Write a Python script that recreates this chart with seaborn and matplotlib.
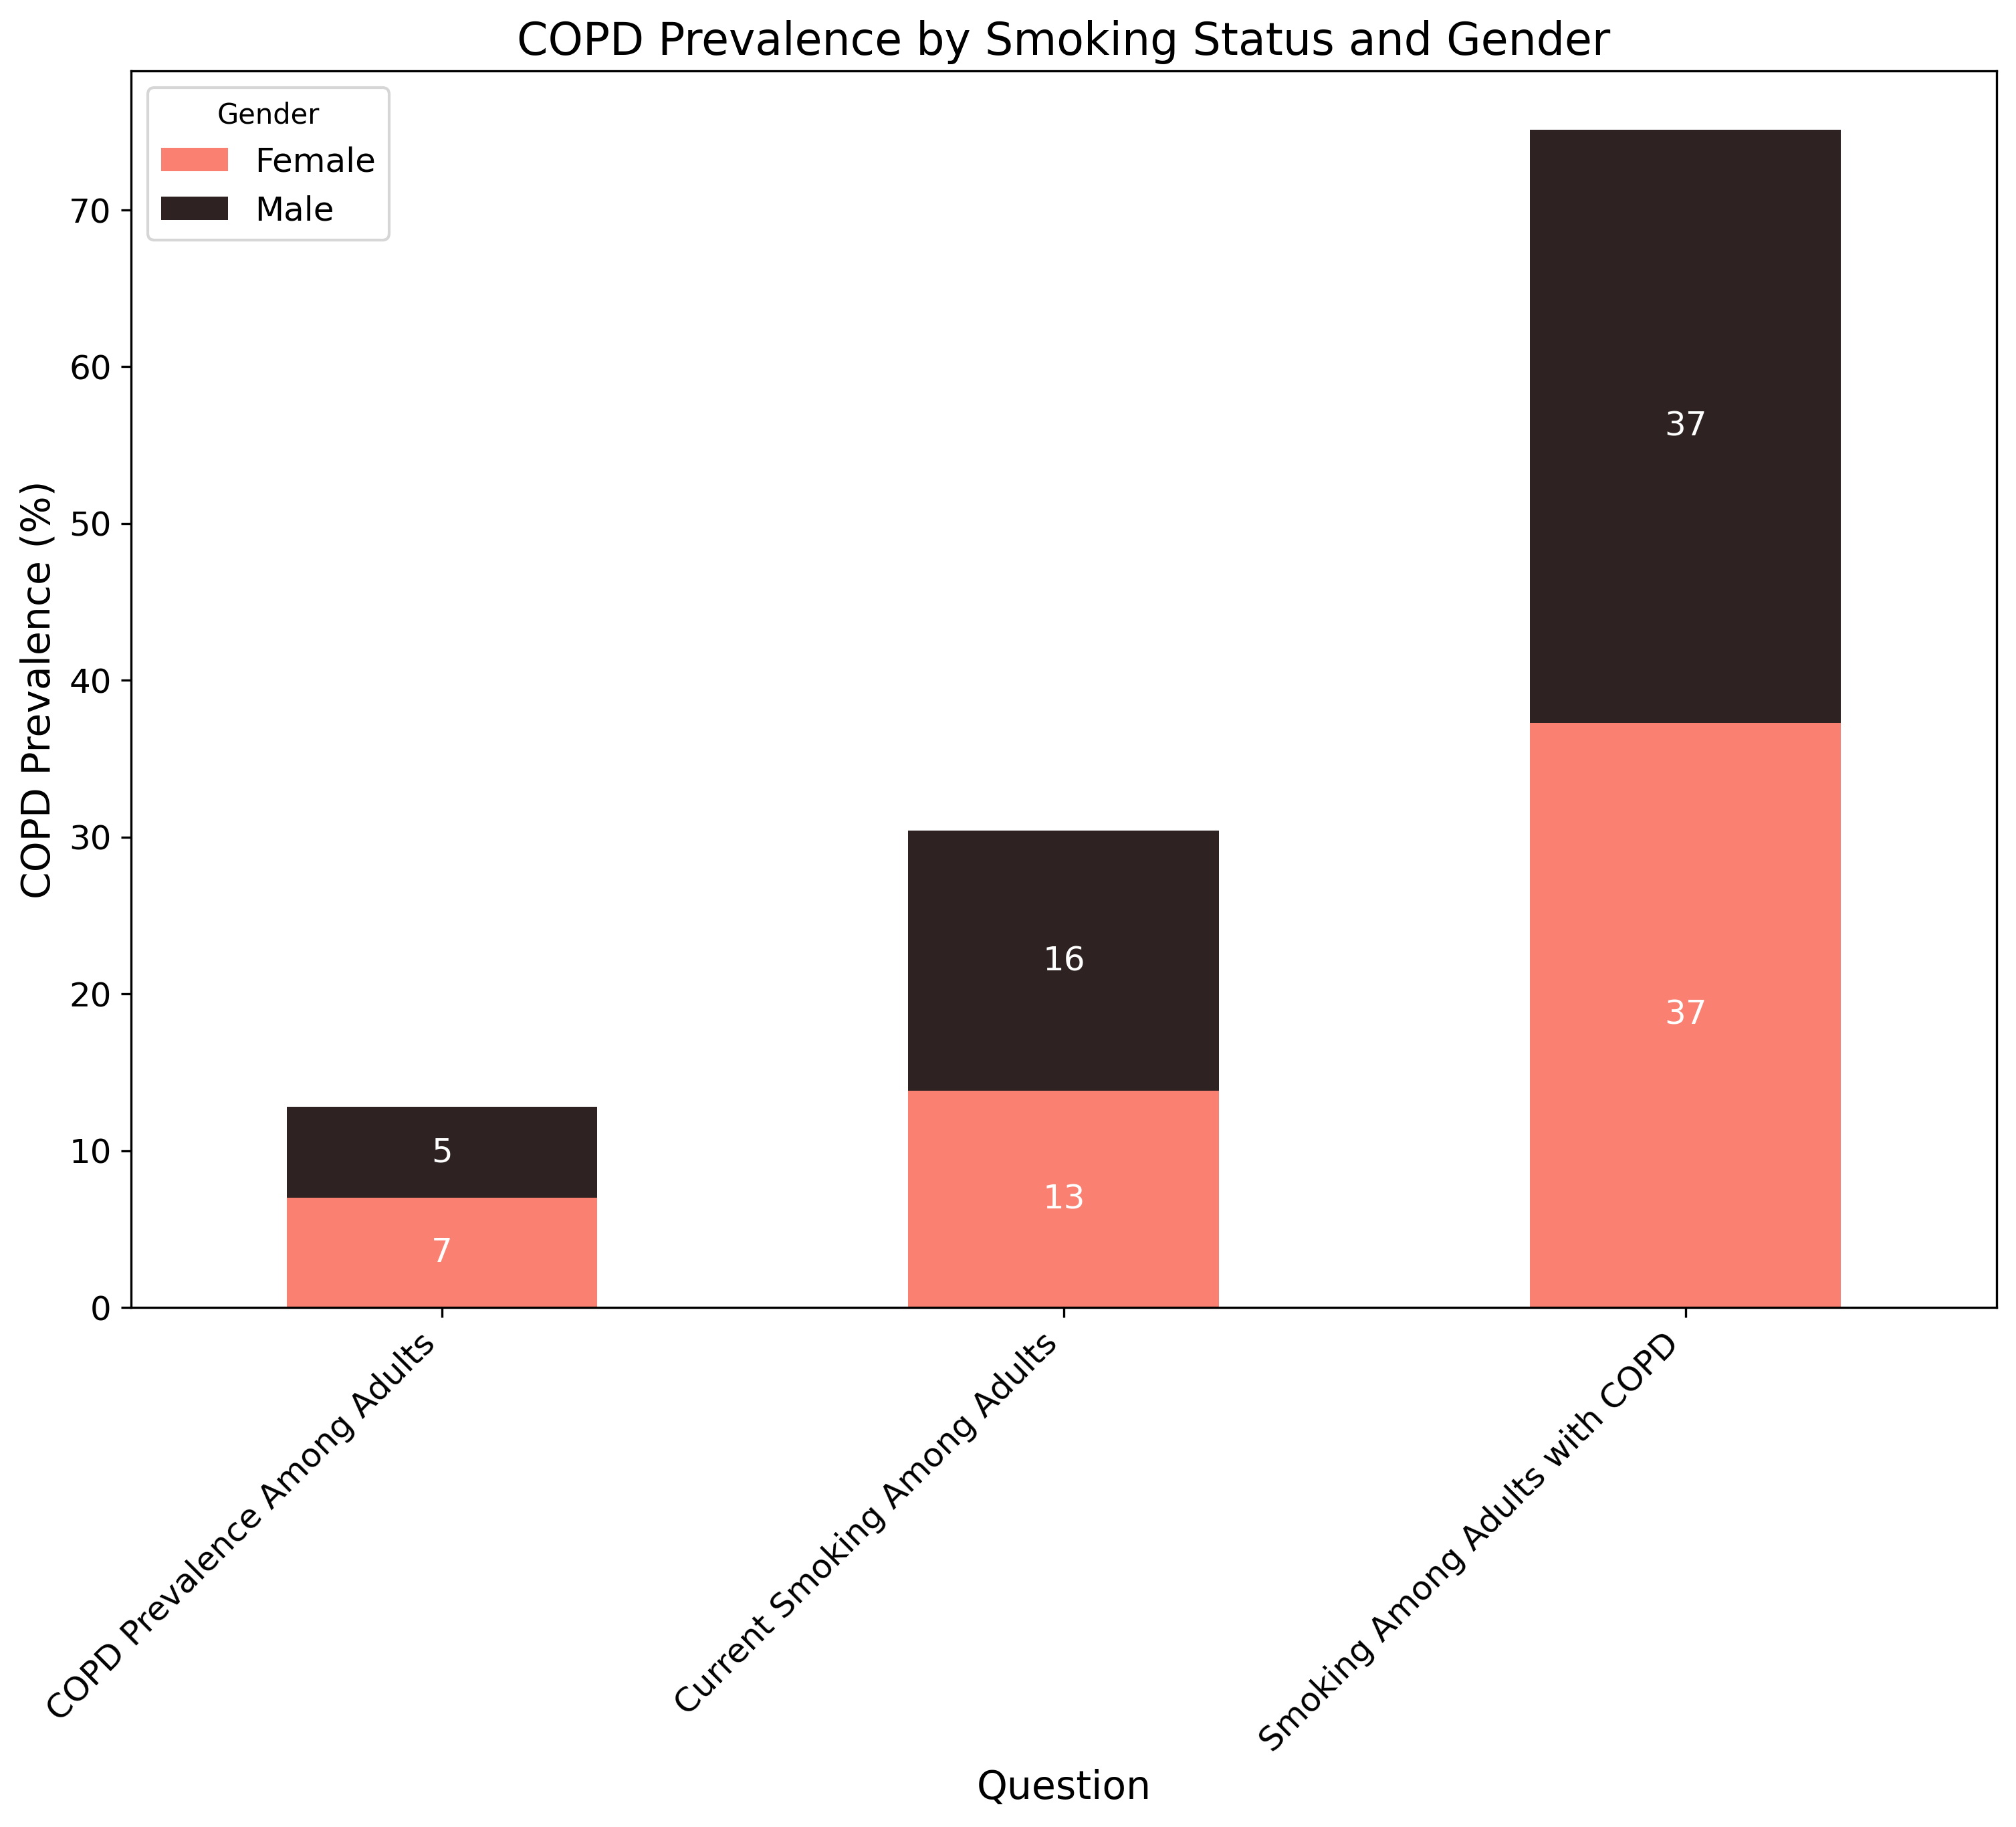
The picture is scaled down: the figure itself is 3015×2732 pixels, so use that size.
import matplotlib
matplotlib.use("Agg")
import matplotlib.pyplot as plt
import seaborn as sns
import pandas as pd

questions = ["COPD Prevalence Among Adults", "Current Smoking Among Adults", "Smoking Among Adults with COPD"]
female = [7.0, 13.8, 37.3]
male = [5.8, 16.6, 37.8]
genders = ["Female", "Male"]

plt.rcParams['font.family'] = ['DejaVu Sans']

colors = sns.color_palette("dark:salmon_r", 2)

fig, ax = plt.subplots(figsize=(10.053, 9.107), dpi=300)
fig.subplots_adjust(left=0.065, right=0.990, top=0.961, bottom=0.2844)

df_f = pd.DataFrame({"Question": questions, "Value": female})
df_m = pd.DataFrame({"Question": questions, "Value": male})

sns.barplot(data=df_f, x="Question", y="Value", color=colors[0], width=0.5,
            ax=ax, label=genders[0], saturation=1, errorbar=None, linewidth=0)
sns.barplot(data=df_m, x="Question", y="Value", color=colors[1], width=0.5,
            ax=ax, label=genders[1], saturation=1, errorbar=None, bottom=female,
            linewidth=0)

for cont in ax.containers:
    ax.bar_label(cont, fmt="%d", label_type="center", color="white", fontsize=12)

ax.set_xlim(-0.5, 2.5)
ax.set_title("COPD Prevalence by Smoking Status and Gender", fontsize=16)
ax.set_xlabel("Question", fontsize=14)
ax.set_ylabel("COPD Prevalence (%)", fontsize=14)
ax.tick_params(axis="both", labelsize=12)
plt.setp(ax.get_xticklabels(), rotation=45, ha="right")
ax.legend(title="Gender", loc="upper left", fontsize=12, title_fontsize=10)

fig.savefig("out.png", dpi=300)
